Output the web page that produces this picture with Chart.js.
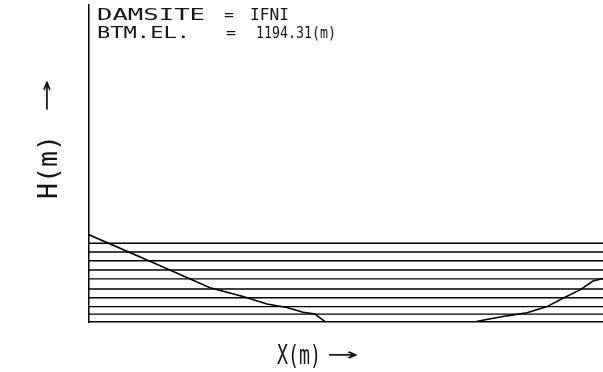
<!DOCTYPE html>
<html>
<head>
<meta charset="utf-8">
<script src="https://cdn.jsdelivr.net/npm/chart.js@4/dist/chart.umd.min.js"></script>
<style>
html,body{margin:0;padding:0;background:#fff;}
#wrap{width:603px;height:372px;position:relative;}
canvas{display:block;}
</style>
</head>
<body>
<div id="wrap"><canvas id="c" width="603" height="372"></canvas></div>
<script>
// ---- data (metres) ----
const profileX = [0, 30.5, 60.5, 77, 89, 99, 107, 113, 118, 150, 193, 195.5, 209, 219, 229, 237, 245.5, 252, 257];
const profileH = [9.9, 6.9, 3.9, 2.9, 2.05, 1.65, 1.1, 0.9, 0.05, 0, 0, 0.15, 0.7, 1.05, 1.75, 2.7, 3.65, 4.65, 4.95];
const waterLevels = [8.95, 7.95, 6.95, 5.9, 4.9, 3.75, 2.75, 1.75, 0.9];
const xRange = [0, 257];
const hRange = [0, 36];
const damsite = "IFNI";
const bottomElevation = "1194.31(m)";
const xTitle = "X(m)";
const yTitle = "H(m)";
const arrow = "\u2192";

const FONT = '"DejaVu Sans Mono"';
const INK = '#161616';

function fitText(ctx, text, left, baseline, width, size, tb) {
  ctx.save();
  ctx.font = size + 'px ' + FONT;
  ctx.textBaseline = tb || 'alphabetic';
  ctx.textAlign = 'left';
  ctx.fillStyle = INK;
  const w = ctx.measureText(text).width;
  ctx.translate(left, baseline);
  ctx.scale(width / w, 1);
  ctx.fillText(text, 0, 0);
  ctx.restore();
}

const textPlugin = {
  id: 'plotterText',
  afterDraw(chart) {
    const ctx = chart.ctx;
    // header block
    fitText(ctx, 'DAMSITE', 97, 20, 108, 15);
    fitText(ctx, '=', 224, 20, 10, 15);
    fitText(ctx, damsite, 250, 20, 39, 15);
    fitText(ctx, 'BTM.EL.', 97, 37.5, 93, 15);
    fitText(ctx, '=', 226, 37.5, 10, 15);
    fitText(ctx, bottomElevation, 256, 37.5, 80, 15);
    // x title
    fitText(ctx, xTitle, 277, 364, 44, 26);
    fitText(ctx, arrow, 327, 355, 31, 22, 'middle');
    // y title (rotated)
    ctx.save();
    ctx.translate(57, 199);
    ctx.rotate(-Math.PI / 2);
    fitText(ctx, yTitle, 0, 0, 64, 26);
    fitText(ctx, arrow, 87, -10, 32, 22, 'middle');
    ctx.restore();
  }
};

const datasets = waterLevels.map(l => ({
  data: [{x: xRange[0], y: l}, {x: xRange[1], y: l}],
  borderColor: '#000',
  borderWidth: 1.4,
  pointRadius: 0,
  fill: false
}));
datasets.push({
  data: profileX.map((x, i) => ({x: x, y: profileH[i]})),
  borderColor: '#000',
  borderWidth: 1.6,
  pointRadius: 0,
  tension: 0,
  fill: false
});

new Chart(document.getElementById('c'), {
  type: 'line',
  data: {datasets: datasets},
  options: {
    responsive: false,
    animation: false,
    events: [],
    layout: {padding: {left: 89, top: 5, right: 0, bottom: 50}},
    plugins: {legend: {display: false}, tooltip: {enabled: false}, title: {display: false}},
    scales: {
      x: {
        type: 'linear', min: xRange[0], max: xRange[1],
        ticks: {display: false},
        grid: {display: false, drawTicks: false},
        border: {display: true, color: '#000', width: 1.5}
      },
      y: {
        type: 'linear', min: hRange[0], max: hRange[1],
        ticks: {display: false},
        grid: {display: false, drawTicks: false},
        border: {display: true, color: '#000', width: 1.5}
      }
    }
  },
  plugins: [textPlugin]
});
</script>
</body>
</html>
